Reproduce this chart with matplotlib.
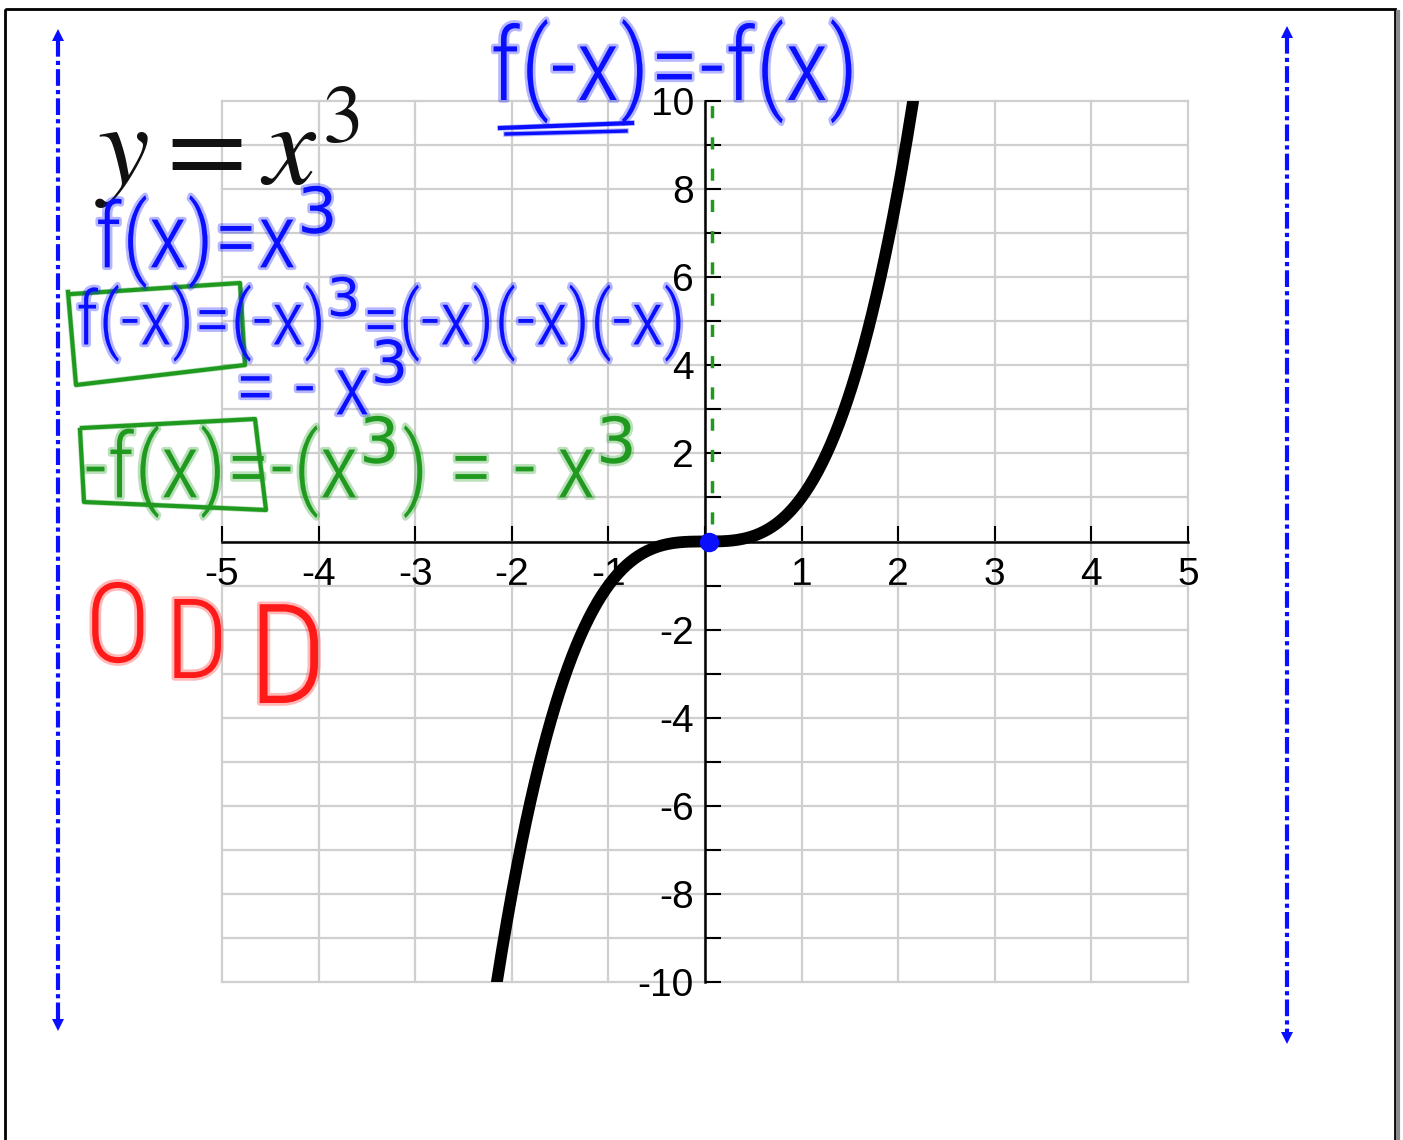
import numpy as np
import matplotlib
matplotlib.use("Agg")
import matplotlib.pyplot as plt
import matplotlib.patheffects as pe
from matplotlib.patches import Rectangle

plt.rcParams["axes.unicode_minus"] = False

# y = x^3 between y = -10 and y = 10
x_end = 10 ** (1 / 3)
curve_x = np.linspace(-x_end, x_end, 400)
curve_y = curve_x ** 3

x_ticks = [-5, -4, -3, -2, -1, 1, 2, 3, 4, 5]
x_grid = [-5, -4, -3, -2, -1, 0, 1, 2, 3, 4, 5]
y_ticks = [-10, -8, -6, -4, -2, 2, 4, 6, 8, 10]
y_minor = [-9, -7, -5, -3, -1, 0, 1, 3, 5, 7, 9]

BLUE = "#0a10ff"
GREEN = "#1f9a1f"
RED = "#ff1a1a"
HAND = ["Roboto Condensed", "Open Sans", "DejaVu Sans"]

W, H = 1403, 1140
fig = plt.figure(figsize=(W / 100, H / 100), dpi=100)

ax = fig.add_axes([222 / W, 1 - 982 / H, 966 / W, 881 / H])
ax.set_xlim(-5, 5)
ax.set_ylim(-10, 10)

ax.spines["left"].set_position(("data", 0))
ax.spines["bottom"].set_position(("data", 0))
ax.spines["right"].set_visible(False)
ax.spines["top"].set_visible(False)
for s in ("left", "bottom"):
    ax.spines[s].set_linewidth(1.8)

ax.set_xticks(x_ticks)
ax.set_xticks(x_grid, minor=True)
ax.set_yticks(y_ticks)
ax.set_yticks(y_minor, minor=True)
ax.tick_params(axis="both", which="both", direction="in", length=11.5, width=1.5,
               labelsize=28, pad=8)
ax.tick_params(axis="x", which="major", pad=11)
for lab in ax.get_xticklabels() + ax.get_yticklabels():
    lab.set_fontfamily("Liberation Sans")

ax.grid(True, which="both", color="#cfcfcf", linewidth=1.6)
for gl in ax.get_xgridlines() + ax.get_ygridlines():
    gl.set_clip_on(False)
ax.set_axisbelow(True)

ax.plot(curve_x, curve_y, color="black", lw=8.5, solid_capstyle="round", zorder=4)

# green hand-drawn dashes up the y-axis and the blue dot at the origin
ax.plot([0.07, 0.07], [0.4, 10], color=GREEN, lw=2.5, ls=(0, (3.5, 5.5)), zorder=5,
        solid_capstyle="round")
ax.plot(0.04, 0, marker="o", ms=13, color=BLUE, zorder=6)

# ink layer in pixel units
ink = fig.add_axes([0, 0, 1, 1], zorder=5)
ink.set_xlim(0, W)
ink.set_ylim(H, 0)
ink.axis("off")
ink.patch.set_alpha(0)

ink.add_patch(Rectangle((5, 9), 1390, 1150, fill=False, lw=2, ec="black", clip_on=False))
ink.plot([1398, 1398], [12, H], color="#8a8a8a", lw=3)

for xa, top, bottom in ((58, 30, 1030), (1287, 27, 1043)):
    ink.plot([xa, xa], [top + 10, bottom - 10], color=BLUE, lw=3, ls=(0, (4, 1, 1, 1)))
    ink.plot(xa, top + 5, marker="^", ms=9, color=BLUE, mew=0)
    ink.plot(xa, bottom - 5, marker="v", ms=9, color=BLUE, mew=0)


def halo(c):
    return [pe.Stroke(linewidth=4, foreground=c, alpha=0.3), pe.Normal()]


def hand(x, y, s, c, size):
    ink.text(x, y, s, color=c, fontsize=size, family=HAND, fontweight="light",
             ha="left", va="baseline", path_effects=halo(c))


ink.text(95, 185, r"$y = x^3$", fontsize=84, color="#111111", math_fontfamily="stix",
         ha="left", va="baseline")

hand(490, 100, "f(-x)=-f(x)", BLUE, 73)
ink.plot([500, 632], [128, 123], color=BLUE, lw=3, path_effects=halo(BLUE))
ink.plot([506, 626], [134, 131], color=BLUE, lw=2.5, path_effects=halo(BLUE))

hand(95, 268, r"f(x)=x$^3$", BLUE, 65)
hand(76, 345, r"f(-x)=(-x)$^3$=(-x)(-x)(-x)", BLUE, 54)
hand(235, 415, r"= - x$^3$", BLUE, 60)
hand(84, 498, r"-f(x)=-(x$^3$) = - x$^3$", GREEN, 65)

# boxes drawn round f(-x) and -f(x)
ink.plot([72, 240, 245, 76, 68], [294, 283, 365, 385, 292], color=GREEN, lw=3,
         path_effects=halo(GREEN))
ink.plot([82, 255, 266, 84, 80], [428, 419, 510, 502, 430], color=GREEN, lw=3,
         path_effects=halo(GREEN))

hand(85, 662, "O", RED, 80)
hand(165, 678, "D", RED, 80)
hand(248, 703, "D", RED, 100)

fig.savefig("out.png", dpi=100)
